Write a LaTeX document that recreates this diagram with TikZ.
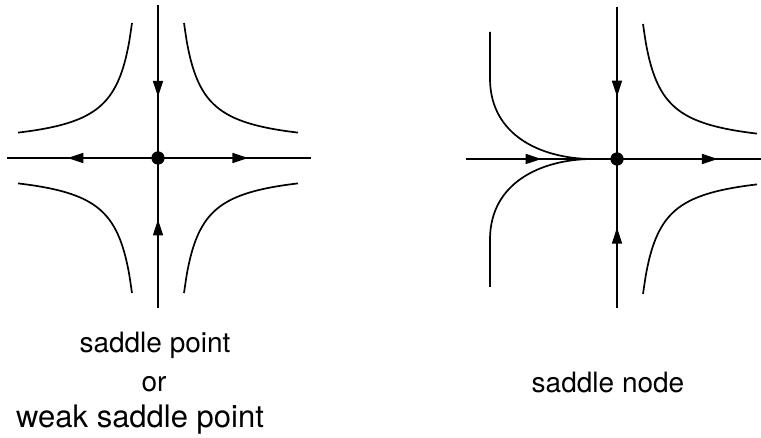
\documentclass[tikz,border=0pt]{standalone}
\usepackage{fontspec}
\setmainfont{TeX Gyre Heros}
\usetikzlibrary{arrows.meta,decorations.markings}

\tikzset{
  flow/.style={line width=1.7pt},
  midarrow/.style={postaction={decorate},decoration={markings,
      mark=at position #1 with {\arrow{Triangle[length=16pt,width=10pt]}}}},
  dot/.style={circle,fill=black,inner sep=0pt,minimum size=13pt},
  label/.style={anchor=base,font=\fontsize{28}{34}\selectfont}
}

\begin{document}
\begin{tikzpicture}[x=1pt,y=-1pt]
\useasboundingbox (0,0) rectangle (761,438);

% saddle point
\node[dot] (L) at (158,158) {};
\coordinate (Ln) at (158,5);
\coordinate (Ls) at (158,308);
\coordinate (Lw) at (7,158);
\coordinate (Le) at (311,158);
\draw[flow,midarrow=0.6] (Ln) -- (L.center);
\draw[flow,midarrow=0.59] (Ls) -- (L.center);
\draw[flow,midarrow=0.6] (L.center) -- (Lw);
\draw[flow,midarrow=0.59] (L.center) -- (Le);
\foreach \sx/\sy in {1/1,1/-1,-1/1,-1/-1}
  \draw[flow,shift={(L.center)}] plot[domain=16:130,smooth,samples=40] ({\sx*(10+\x)},{\sy*(10+2000/\x)});
\node[dot] at (L) {};

% saddle node
\node[dot] (R) at (617,159) {};
\coordinate (Rn) at (617,7);
\coordinate (Rs) at (617,308);
\coordinate (Rw) at (466,159);
\coordinate (Re) at (761,159);
\draw[flow,midarrow=0.59] (Rn) -- (R.center);
\draw[flow,midarrow=0.54] (Rs) -- (R.center);
\draw[flow,midarrow=0.5] (Rw) -- (R.center);
\draw[flow,midarrow=0.7] (R.center) -- (Re);
\foreach \sy in {1,-1}
  \draw[flow,shift={(R.center)}] plot[domain=16:130,smooth,samples=40] ({10+\x},{\sy*(10+2000/\x)});
\draw[flow] (490,32) -- (490,80) .. controls (491,135) and (540,158) .. (590,159);
\draw[flow] (490,287) -- (490,238) .. controls (491,183) and (540,160) .. (590,159);
\node[dot] at (R) {};

% labels
\node[label] (t1) at (155,353) {saddle point};
\node[label] (t2) at (154,392) {or};
\node[label,font=\fontsize{31}{36}\selectfont] (t3) at (140,428) {weak saddle point};
\node[label] (t4) at (608,393) {saddle node};
\end{tikzpicture}
\end{document}
